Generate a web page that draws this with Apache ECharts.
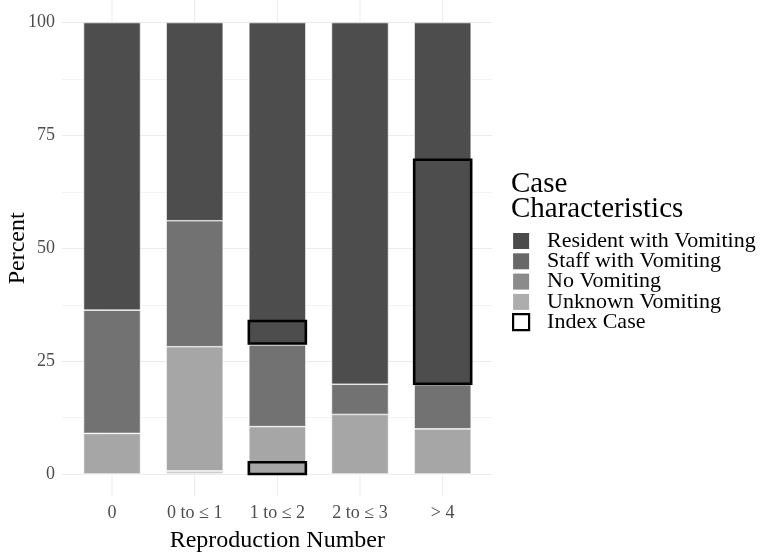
<!DOCTYPE html>
<html>
<head>
<meta charset="utf-8">
<script src="https://cdn.jsdelivr.net/npm/echarts@6/dist/echarts.min.js"></script>
<style>
    html, body { margin: 0; padding: 0; background: #fff; }
    #main { width: 767px; height: 554px; }
</style>
</head>
<body>
<div id="main"></div>
<script>
var categories = ['0', '0 to \u2264 1', '1 to \u2264 2', '2 to \u2264 3', '> 4'];
var resident = [63.7, 43.9, 71.4, 80.1, 80.2];
var staff = [27.3, 27.9, 18.1, 6.7, 9.8];
var noVomiting = [9.0, 27.5, 10.5, 13.2, 10.0];
var unknown = [0, 0.7, 0, 0, 0];
// index case boxes: [category, from, to]
var indexCases = [['1 to \u2264 2', 28.9, 33.9], ['1 to \u2264 2', 0, 2.6], ['> 4', 20.0, 69.6]];
var yTicks = [0, 25, 50, 75, 100];

var serif = "'Liberation Serif', 'DejaVu Serif', serif";
var barW = 57;

// 基于准备好的dom，初始化echarts实例
var myChart = echarts.init(document.getElementById('main'));

function stackBar(name, data, color) {
    return {
        name: name,
        type: 'bar',
        stack: 'all',
        xAxisIndex: 1,
        yAxisIndex: 1,
        barWidth: barW,
        data: data,
        z: 2,
        itemStyle: { color: color, borderColor: '#ffffff', borderWidth: 0.6 }
    };
}

myChart.setOption({
    animation: false,
    backgroundColor: '#ffffff',
    title: {
        text: 'Case\nCharacteristics',
        left: 511,
        top: 172,
        padding: 0,
        textStyle: { fontFamily: serif, fontSize: 29, fontWeight: 'normal', color: '#000', lineHeight: 25 }
    },
    legend: {
        orient: 'vertical',
        left: 512,
        top: 230,
        padding: 0,
        itemWidth: 16,
        itemHeight: 16,
        itemGap: -1.7,
        selectedMode: false,
        textStyle: { fontFamily: serif, fontSize: 22, color: '#000', padding: [0, 0, 0, 13] },
        data: [
            { name: 'Resident with Vomiting', icon: 'rect', itemStyle: { color: '#4b4b4b', borderWidth: 0 } },
            { name: 'Staff with Vomiting', icon: 'rect', itemStyle: { color: '#686868', borderWidth: 0 } },
            { name: 'No Vomiting', icon: 'rect', itemStyle: { color: '#8b8b8b', borderWidth: 0 } },
            { name: 'Unknown Vomiting', icon: 'rect', itemStyle: { color: '#adadad', borderWidth: 0 } },
            { name: 'Index Case', icon: 'rect', itemStyle: { color: '#ffffff', borderColor: '#000', borderWidth: 2.2 } }
        ]
    },
    grid: [
        { left: 62, right: 275, top: 22.7, bottom: 80, outerBoundsMode: 'none', containLabel: false },
        { left: 70.7, right: 283, top: 0, bottom: 57.4, outerBoundsMode: 'none', containLabel: false }
    ],
    xAxis: [
        { gridIndex: 0, type: 'value', min: 0, max: 1, show: false },
        {
            gridIndex: 1,
            type: 'category',
            data: categories,
            axisLine: { show: false },
            axisTick: { show: false },
            splitLine: { show: false },
            axisLabel: { fontFamily: serif, fontSize: 18, color: '#4d4d4d', margin: 8 },
            name: 'Reproduction Number',
            nameLocation: 'middle',
            nameGap: 32,
            nameMoveOverlap: false,
            nameTextStyle: { fontFamily: serif, fontSize: 24, color: '#000' }
        }
    ],
    yAxis: [
        {
            gridIndex: 0,
            type: 'value',
            min: 0,
            max: 100,
            interval: 25,
            axisLine: { show: false },
            axisTick: { show: false },
            axisLabel: {
                fontFamily: serif, fontSize: 18, color: '#4d4d4d', margin: 7,
                formatter: function (v) { return yTicks.indexOf(v) >= 0 ? String(v) : ''; }
            },
            splitLine: { show: true, lineStyle: { color: '#ebebeb', width: 1 } },
            minorTick: { show: false, splitNumber: 2 },
            minorSplitLine: { show: true, lineStyle: { color: '#f3f3f3', width: 1 } },
            name: 'Percent',
            nameLocation: 'middle',
            nameRotate: 90,
            nameGap: 32,
            nameMoveOverlap: false,
            nameTextStyle: { fontFamily: serif, fontSize: 24, color: '#000' }
        },
        { gridIndex: 1, type: 'value', min: -5, max: 105, show: false }
    ],
    series: [
        {
            name: 'grid-x',
            type: 'custom',
            xAxisIndex: 1,
            yAxisIndex: 1,
            silent: true,
            z: 1,
            data: categories.map(function (c) { return [c, 0]; }),
            renderItem: function (params, api) {
                var x = api.coord([api.value(0), 0])[0];
                var cs = params.coordSys;
                return {
                    type: 'line',
                    shape: { x1: x, y1: cs.y, x2: x, y2: cs.y + cs.height },
                    style: { stroke: '#ebebeb', lineWidth: 1 }
                };
            }
        },
        stackBar('Unknown Vomiting', unknown, '#cfcfcf'),
        stackBar('No Vomiting', noVomiting, '#a6a6a6'),
        stackBar('Staff with Vomiting', staff, '#727272'),
        stackBar('Resident with Vomiting', resident, '#4d4d4d'),
        {
            name: 'Index Case',
            type: 'custom',
            xAxisIndex: 1,
            yAxisIndex: 1,
            z: 3,
            itemStyle: { color: '#ffffff', borderColor: '#000' },
            data: indexCases,
            renderItem: function (params, api) {
                var p1 = api.coord([api.value(0), api.value(2)]);
                var p0 = api.coord([api.value(0), api.value(1)]);
                return {
                    type: 'rect',
                    shape: { x: p1[0] - barW / 2, y: p1[1], width: barW, height: p0[1] - p1[1] },
                    style: { fill: 'none', stroke: '#000', lineWidth: 2.6 }
                };
            }
        }
    ]
});
</script>
</body>
</html>
